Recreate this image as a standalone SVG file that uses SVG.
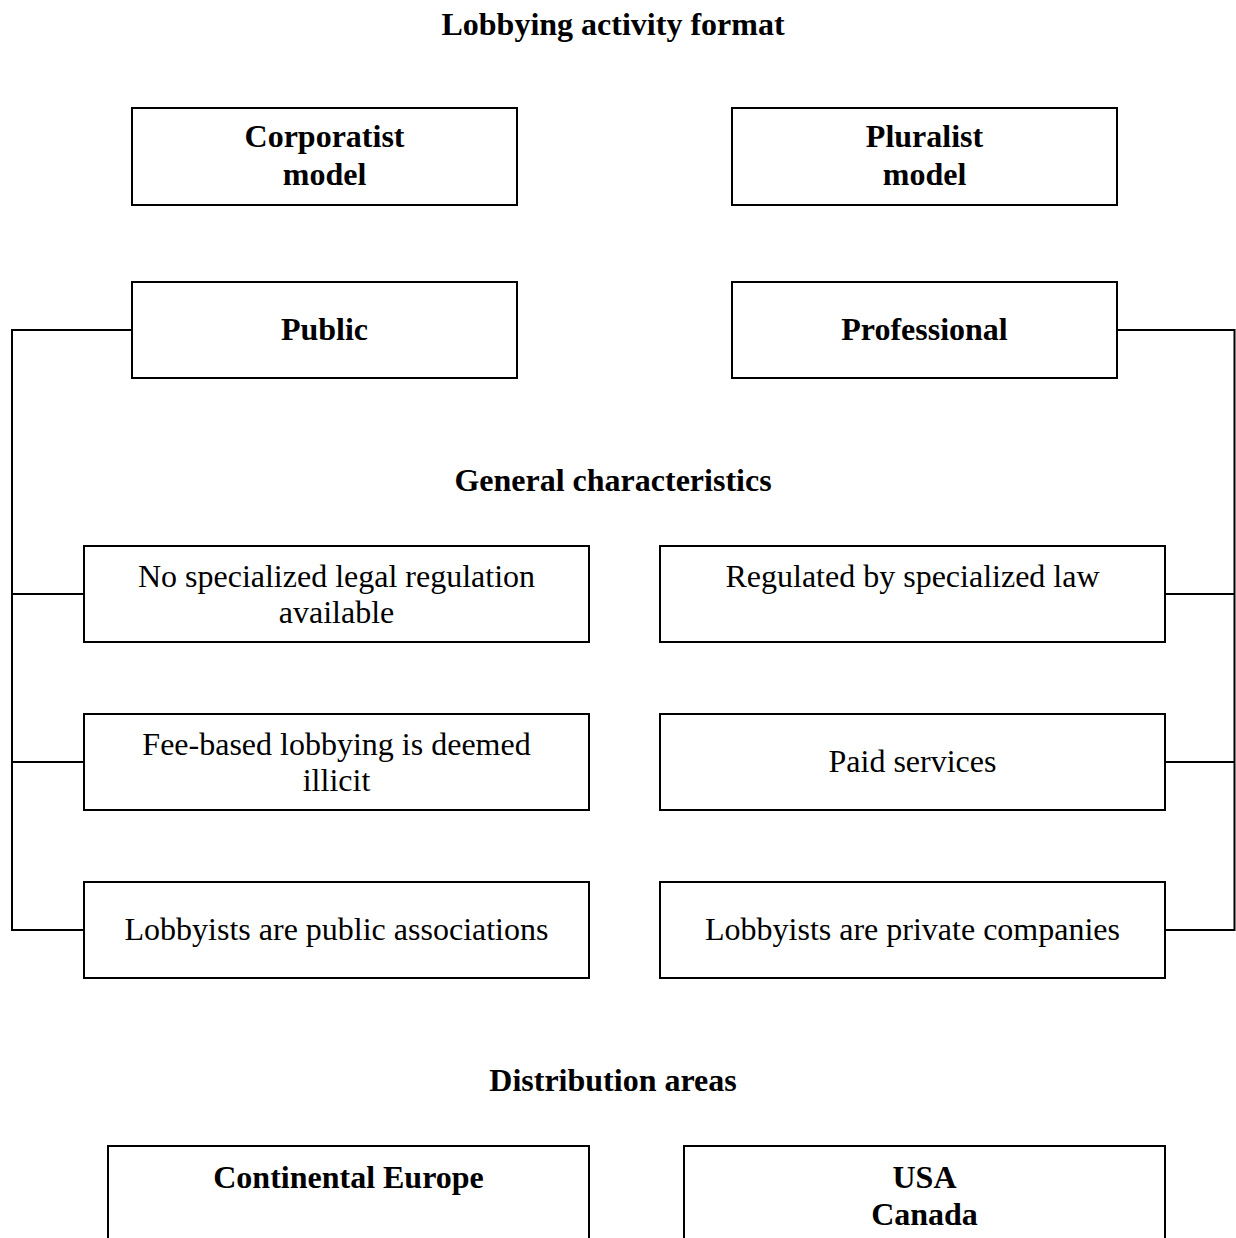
<svg xmlns="http://www.w3.org/2000/svg" width="1236" height="1238" viewBox="0 0 1236 1238">
  <style>
    .box { fill: #ffffff; stroke: #000000; stroke-width: 2; }
    .wire { fill: none; stroke: #000000; stroke-width: 2; }
    text { font-family: "Liberation Serif", "Times New Roman", serif; font-size: 32px; fill: #000000; text-anchor: middle; }
    .b { font-weight: bold; }
  </style>
  <rect width="1236" height="1238" fill="#ffffff"/>

  <!-- Section headings -->
  <text class="b" x="613" y="35">Lobbying activity format</text>
  <text class="b" x="613" y="491">General characteristics</text>
  <text class="b" x="613" y="1091">Distribution areas</text>

  <!-- Connectors: left bracket and right bracket -->
  <g id="connectors">
    <polyline class="wire" points="132,330 12,330 12,930 84,930"/>
    <line class="wire" x1="12" y1="594" x2="84" y2="594"/>
    <line class="wire" x1="12" y1="762" x2="84" y2="762"/>
    <polyline class="wire" points="1117,330 1234.5,330 1234.5,930 1165,930"/>
    <line class="wire" x1="1165" y1="594" x2="1234.5" y2="594"/>
    <line class="wire" x1="1165" y1="762" x2="1234.5" y2="762"/>
  </g>

  <g id="corporatist">
    <rect class="box" x="132" y="108" width="385" height="97"/>
    <text class="b" x="324.5" y="147">Corporatist</text>
    <text class="b" x="324.5" y="185">model</text>
  </g>
  <g id="pluralist">
    <rect class="box" x="732" y="108" width="385" height="97"/>
    <text class="b" x="924.5" y="147">Pluralist</text>
    <text class="b" x="924.5" y="185">model</text>
  </g>

  <g id="public">
    <rect class="box" x="132" y="282" width="385" height="96"/>
    <text class="b" x="324.5" y="340">Public</text>
  </g>
  <g id="professional">
    <rect class="box" x="732" y="282" width="385" height="96"/>
    <text class="b" x="924.5" y="340">Professional</text>
  </g>

  <g id="no-regulation">
    <rect class="box" x="84" y="546" width="505" height="96"/>
    <text x="336.5" y="587">No specialized legal regulation</text>
    <text x="336.5" y="623">available</text>
  </g>
  <g id="regulated">
    <rect class="box" x="660" y="546" width="505" height="96"/>
    <text x="912.5" y="587">Regulated by specialized law</text>
  </g>

  <g id="fee-illicit">
    <rect class="box" x="84" y="714" width="505" height="96"/>
    <text x="336.5" y="755">Fee-based lobbying is deemed</text>
    <text x="336.5" y="791">illicit</text>
  </g>
  <g id="paid">
    <rect class="box" x="660" y="714" width="505" height="96"/>
    <text x="912.5" y="772">Paid services</text>
  </g>

  <g id="public-associations">
    <rect class="box" x="84" y="882" width="505" height="96"/>
    <text x="336.5" y="940">Lobbyists are public associations</text>
  </g>
  <g id="private-companies">
    <rect class="box" x="660" y="882" width="505" height="96"/>
    <text x="912.5" y="940">Lobbyists are private companies</text>
  </g>

  <g id="europe">
    <rect class="box" x="108" y="1146" width="481" height="120"/>
    <text class="b" x="348.5" y="1188">Continental Europe</text>
  </g>
  <g id="north-america">
    <rect class="box" x="684" y="1146" width="481" height="120"/>
    <text class="b" x="924.5" y="1188">USA</text>
    <text class="b" x="924.5" y="1225">Canada</text>
  </g>
</svg>
